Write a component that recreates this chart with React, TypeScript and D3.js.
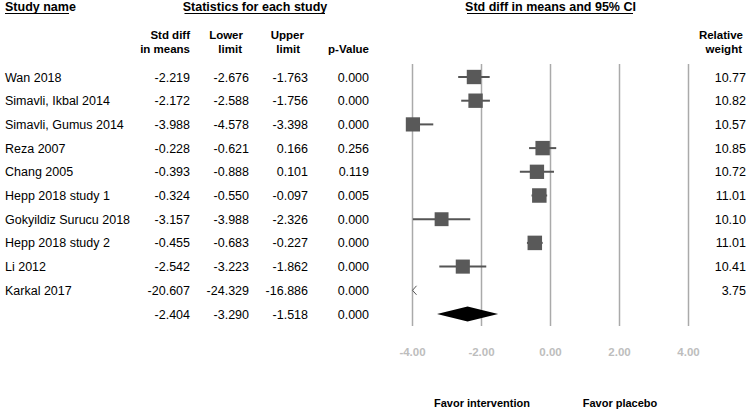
import React from "react";
import * as d3 from "d3";

const studies = [
  "Wan 2018",
  "Simavli, Ikbal 2014",
  "Simavli, Gumus 2014",
  "Reza 2007",
  "Chang 2005",
  "Hepp 2018 study 1",
  "Gokyildiz Surucu 2018",
  "Hepp 2018 study 2",
  "Li 2012",
  "Karkal 2017",
];
const smd = [-2.219, -2.172, -3.988, -0.228, -0.393, -0.324, -3.157, -0.455, -2.542, -20.607];
const lower = [-2.676, -2.588, -4.578, -0.621, -0.888, -0.55, -3.988, -0.683, -3.223, -24.329];
const upper = [-1.763, -1.756, -3.398, 0.166, 0.101, -0.097, -2.326, -0.227, -1.862, -16.886];
const pval = [0.0, 0.0, 0.0, 0.256, 0.119, 0.005, 0.0, 0.0, 0.0, 0.0];
const weight = [10.77, 10.82, 10.57, 10.85, 10.72, 11.01, 10.1, 11.01, 10.41, 3.75];
const summary = { smd: -2.404, lower: -3.29, upper: -1.518, p: 0.0 };
const ticks = [-4, -2, 0, 2, 4];

const W = 750;
const H = 412;
const FONT = "'Liberation Sans', Arial, sans-serif";

export default function App() {
  const x = d3.scaleLinear().domain([-4, 4]).range([412.5, 688.5]);
  const y = d3.scaleLinear().domain([0, 1]).range([77, 100.7]);
  const side = d3.scaleSqrt().domain([0, 11.01]).range([0, 14.5]);
  const clamp = (v: number) => Math.max(-4, Math.min(4, v));
  const fmt = (v: number) => v.toFixed(3);
  const fs = 12.5;
  const colX = [190, 249, 308, 369];
  const n = studies.length;

  return (
    <svg width={W} height={H} style={{ position: "absolute", left: 0, top: 0 }} fontFamily={FONT}>
      <rect width={W} height={H} fill="#fff" />
      {/* headers */}
      <g fontWeight="bold" fontSize={12.5} fill="#000">
        <text x={5} y={11}>Study name</text>
        <line x1={5} x2={69} y1={13.5} y2={13.5} stroke="#000" strokeWidth={1} />
        <text x={255} y={11} textAnchor="middle">Statistics for each study</text>
        <line x1={184.5} x2={325} y1={13.5} y2={13.5} stroke="#000" strokeWidth={1} />
        <text x={x(0)} y={11} textAnchor="middle">Std diff in means and 95% CI</text>
        <line x1={467} x2={633} y1={13.5} y2={13.5} stroke="#000" strokeWidth={1} />
      </g>
      <g fontWeight="bold" fontSize={11.5} fill="#000" textAnchor="end">
        <text x={colX[0]} y={39}>Std diff</text>
        <text x={colX[0]} y={53}>in means</text>
        <text x={colX[1] - 6} y={39}>Lower</text>
        <text x={colX[1] - 7} y={53}>limit</text>
        <text x={colX[2] - 4} y={39}>Upper</text>
        <text x={colX[2] - 8} y={53}>limit</text>
        <text x={colX[3]} y={53}>p-Value</text>
        <text x={743} y={39}>Relative</text>
        <text x={742} y={53}>weight</text>
      </g>
      {/* gridlines */}
      {ticks.map((t) => (
        <line key={t} x1={x(t)} x2={x(t)} y1={64} y2={326} stroke="#aaaaaa" strokeWidth={1.5} />
      ))}
      {/* rows */}
      {studies.map((s, i) => {
        const cy = y(i);
        const ty = cy + 4.5;
        const vals = [smd[i], lower[i], upper[i], pval[i]];
        const inRange = smd[i] >= -4.05 && smd[i] <= 4;
        const sz = side(weight[i]);
        return (
          <g key={s}>
            <text x={5} y={ty} fontSize={fs} fill="#000">{s}</text>
            {vals.map((v, j) => (
              <text key={j} x={colX[j]} y={ty} fontSize={fs} fill="#000" textAnchor="end">
                {fmt(v)}
              </text>
            ))}
            <text x={746} y={ty} fontSize={fs} fill="#000" textAnchor="end">{weight[i].toFixed(2)}</text>
            {inRange ? (
              <g>
                <line x1={x(clamp(lower[i]))} x2={x(clamp(upper[i]))} y1={cy} y2={cy} stroke="#555" strokeWidth={2} />
                <rect x={x(Math.max(-4, smd[i])) - sz / 2} y={cy - sz / 2} width={sz} height={sz} fill="#595959" />
              </g>
            ) : (
              <path
                d={`M${x(-4) + 4},${cy - 4.5} L${x(-4)},${cy} L${x(-4) + 4},${cy + 4.5}`}
                fill="none"
                stroke="#555"
                strokeWidth={1}
              />
            )}
          </g>
        );
      })}
      {/* summary */}
      <g>
        {[summary.smd, summary.lower, summary.upper, summary.p].map((v, j) => (
          <text key={j} x={colX[j]} y={y(n) + 4.5} fontSize={fs} fill="#000" textAnchor="end">
            {fmt(v)}
          </text>
        ))}
        <path
          d={`M${x(summary.lower)},${y(n)} L${x(summary.smd)},${y(n) - 7.5} L${x(summary.upper)},${y(n)} L${x(summary.smd)},${y(n) + 7.5} Z`}
          fill="#000"
        />
      </g>
      {/* axis labels */}
      <g fontWeight="bold" fontSize={11.5} fill="#bdbdbd" textAnchor="middle">
        {ticks.map((t) => (
          <text key={t} x={x(t)} y={356}>{t.toFixed(2)}</text>
        ))}
      </g>
      <g fontWeight="bold" fontSize={11} fill="#000" textAnchor="middle">
        <text x={482} y={407}>Favor intervention</text>
        <text x={620} y={407}>Favor placebo</text>
      </g>
    </svg>
  );
}
